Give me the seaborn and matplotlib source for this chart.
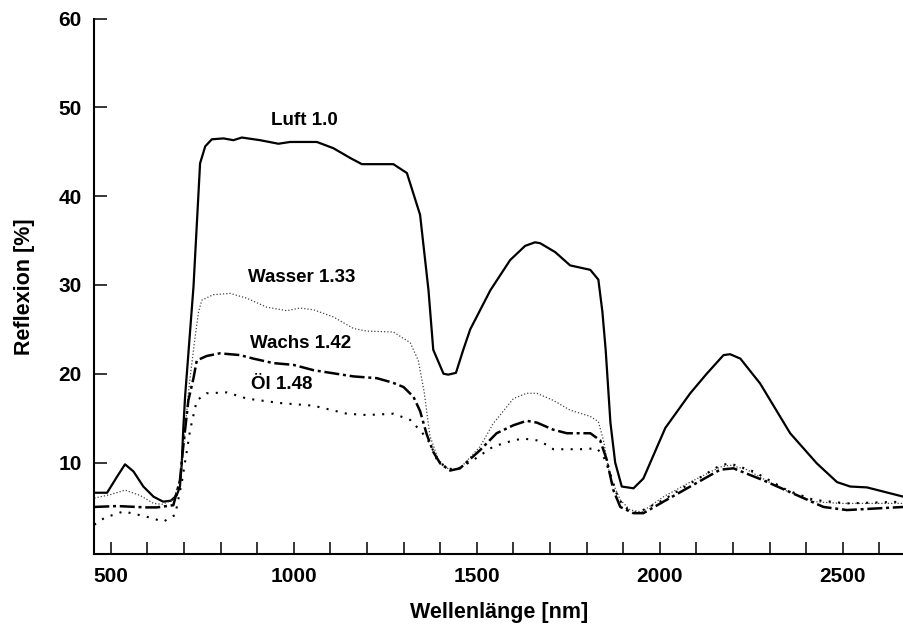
import matplotlib
matplotlib.use("Agg")
import matplotlib.pyplot as plt
import seaborn as sns
import numpy as np
from matplotlib.ticker import MultipleLocator, FixedLocator

# ---------------- data ----------------
luft_nm = [455, 490, 517, 539, 562, 589, 617, 643, 664, 680,
           689, 694, 698, 703, 726, 744, 758, 776, 808, 835,
           858, 908, 958, 990, 1063, 1108, 1154, 1186, 1272, 1309,
           1345, 1368, 1381, 1409, 1422, 1443, 1463, 1482, 1537, 1591,
           1632, 1659, 1673, 1714, 1755, 1810, 1832, 1843, 1852, 1865,
           1878, 1896, 1928, 1955, 2015, 2083, 2128, 2174, 2192, 2220,
           2274, 2356, 2429, 2484, 2520, 2566, 2666]
luft_val = [6.6, 6.6, 8.4, 9.8, 9.0, 7.3, 6.15, 5.6, 5.7, 6.3,
            7.3, 9.9, 13.7, 17.4, 29.8, 43.7, 45.6, 46.4, 46.5, 46.3,
            46.6, 46.3, 45.9, 46.1, 46.1, 45.4, 44.3, 43.6, 43.6, 42.6,
            37.9, 29.4, 22.7, 20.0, 19.9, 20.1, 22.7, 25.0, 29.4, 32.8,
            34.4, 34.8, 34.7, 33.7, 32.2, 31.7, 30.6, 27.0, 22.7, 14.5,
            10.0, 7.3, 7.1, 8.2, 13.9, 17.8, 20.0, 22.1, 22.2, 21.7,
            18.9, 13.3, 9.9, 7.8, 7.3, 7.2, 6.15]

wasser_nm = [455, 500, 539, 580, 617, 640, 671, 689, 703, 715,
             730, 740, 749, 780, 826, 872, 926, 981, 1017, 1054,
             1108, 1163, 1200, 1272, 1318, 1340, 1356, 1372, 1395, 1427,
             1454, 1509, 1545, 1600, 1636, 1664, 1709, 1755, 1810, 1832,
             1846, 1864, 1892, 1919, 1951, 2010, 2083, 2165, 2192, 2238,
             2329, 2420, 2493, 2666]
wasser_val = [6.0, 6.4, 6.9, 6.3, 5.4, 5.3, 5.8, 8.0, 13.7, 19.0,
              24.0, 27.0, 28.3, 28.9, 29.05, 28.5, 27.5, 27.1, 27.4, 27.2,
              26.4, 25.1, 24.8, 24.7, 23.5, 21.5, 18.0, 13.0, 10.3, 9.1,
              9.35, 11.8, 14.4, 17.2, 17.8, 17.8, 17.0, 15.9, 15.2, 14.6,
              12.5, 8.4, 5.8, 4.65, 4.45, 6.15, 7.8, 9.5, 9.7, 9.2,
              7.1, 5.6, 5.4, 5.4]

wachs_nm = [455, 517, 598, 626, 671, 689, 698, 712, 726, 735,
            762, 798, 853, 890, 944, 999, 1054, 1108, 1163, 1227,
            1270, 1300, 1327, 1345, 1363, 1381, 1400, 1427, 1454, 1509,
            1554, 1600, 1636, 1664, 1709, 1746, 1810, 1837, 1855, 1873,
            1892, 1928, 1955, 2010, 2083, 2165, 2201, 2283, 2365, 2447,
            2511, 2666]
wachs_val = [5.0, 5.1, 4.95, 4.95, 5.2, 8.0, 11.8, 17.0, 19.5, 21.5,
             22.0, 22.3, 22.1, 21.7, 21.2, 21.0, 20.4, 20.05, 19.7, 19.5,
             19.0, 18.5, 17.4, 15.8, 13.2, 11.2, 9.9, 9.1, 9.35, 11.4,
             13.3, 14.2, 14.7, 14.5, 13.7, 13.3, 13.3, 12.5, 10.3, 6.9,
             5.0, 4.3, 4.3, 5.6, 7.3, 9.2, 9.35, 8.0, 6.5, 5.0,
             4.65, 5.0]

oel_nm = [455, 484, 535, 598, 644, 676, 695, 717, 735, 762,
          817, 872, 963, 1054, 1145, 1200, 1272, 1318, 1350, 1372,
          1391, 1418, 1445, 1491, 1545, 1600, 1627, 1664, 1691, 1709,
          1782, 1828, 1846, 1864, 1882, 1901, 1937, 2010, 2083, 2165,
          2192, 2256, 2347, 2420, 2511, 2666]
oel_val = [3.0, 3.8, 4.5, 3.9, 3.35, 4.1, 8.0, 13.7, 17.0, 17.8,
           17.9, 17.2, 16.7, 16.4, 15.5, 15.35, 15.5, 14.8, 13.4, 12.2,
           10.3, 9.35, 9.2, 10.3, 11.8, 12.5, 12.7, 12.5, 12.0, 11.5,
           11.5, 11.6, 10.7, 8.8, 6.5, 5.0, 4.3, 5.8, 7.65, 9.7,
           9.9, 9.0, 6.9, 5.8, 5.4, 5.6]

labels = ["Luft 1.0", "Wasser 1.33", "Wachs 1.42", "Öl 1.48"]
label_x = [937, 875, 881, 883]
label_y = [48.0, 30.36, 22.86, 18.28]

x_major = [500, 1000, 1500, 2000, 2500]
y_major = [10, 20, 30, 40, 50, 60]

# ---------------- styling ----------------
sns.set_theme(style="white")
plt.rcParams["font.family"] = ["Liberation Sans", "DejaVu Sans"]
plt.rcParams["font.weight"] = "bold"
plt.rcParams["lines.solid_joinstyle"] = "round"

fig = plt.figure(figsize=(9.04, 6.28), dpi=100)
ax = fig.add_axes([0.1043, 0.1178, 0.8957, 0.8527])

sns.lineplot(x=luft_nm, y=luft_val, ax=ax, color="black", lw=1.6,
             linestyle="-", estimator=None, sort=False)
sns.lineplot(x=wasser_nm, y=wasser_val, ax=ax, color="#444444", lw=0.9,
             linestyle=(0, (1, 1.6)), estimator=None, sort=False)
sns.lineplot(x=wachs_nm, y=wachs_val, ax=ax, color="black", lw=1.8,
             linestyle=(0, (6, 1.5, 1.2, 1.5)), estimator=None, sort=False)
sns.lineplot(x=oel_nm, y=oel_val, ax=ax, color="black", lw=1.5,
             linestyle=(0, (1, 3.5)), estimator=None, sort=False)

for t, xx, yy in zip(labels, label_x, label_y):
    ax.text(xx, yy, t, ha="left", va="baseline", fontsize=13.5,
            fontweight="bold", color="black")

ax.set_xlim(455, 2667)
ax.set_ylim(-0.3, 60)

ax.xaxis.set_major_locator(FixedLocator(x_major))
ax.xaxis.set_minor_locator(MultipleLocator(100))
ax.yaxis.set_major_locator(FixedLocator(y_major))

ax.tick_params(axis="x", which="both", direction="in", length=9, width=1.1,
               color="black", bottom=True, top=False, pad=9,
               labelsize=15, labelcolor="black")
ax.tick_params(axis="y", which="major", direction="in", length=9, width=1.1,
               color="black", left=True, right=False, pad=9,
               labelsize=15, labelcolor="black")
for lab in ax.get_xticklabels() + ax.get_yticklabels():
    lab.set_fontweight("bold")

for side in ["top", "right"]:
    ax.spines[side].set_visible(False)
for side in ["left", "bottom"]:
    ax.spines[side].set_color("black")
    ax.spines[side].set_linewidth(1.5)

ax.set_xlabel("Wellenlänge [nm]", fontsize=15.5, fontweight="bold",
              color="black", labelpad=12)
ax.set_ylabel("Reflexion [%]", fontsize=15.5, fontweight="bold",
              color="black", labelpad=17)
ax.grid(False)
ax.set_facecolor("white")
fig.patch.set_facecolor("white")

fig.savefig("out.png", dpi=100)
